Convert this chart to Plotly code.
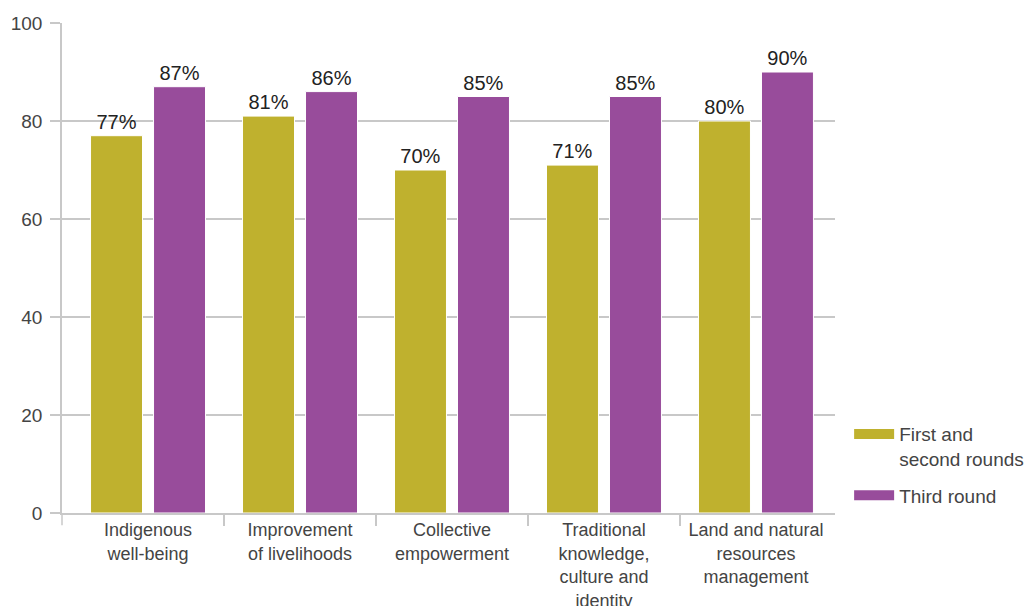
import plotly.graph_objects as go

categories = [
    "Indigenous<br>well-being",
    "Improvement<br>of livelihoods",
    "Collective<br>empowerment",
    "Traditional<br>knowledge,<br>culture and<br>identity",
    "Land and natural<br>resources<br>management",
]
first_second_rounds = [77, 81, 70, 71, 80]
third_round = [87, 86, 85, 85, 90]
y_ticks = [0, 20, 40, 60, 80, 100]

series_names = ["First and<br>second rounds", "Third round"]
colors = ["#BFB12E", "#984C9B"]
FONT = "Liberation Sans, Arial, Helvetica, sans-serif"
GRID = "#C8C8C8"
X_RANGE = [-0.566, 4.52]

fig = go.Figure()
for i, (name, vals, col) in enumerate(zip(series_names, [first_second_rounds, third_round], colors)):
    fig.add_trace(go.Bar(
        x=categories, y=vals, name=name, showlegend=False,
        marker=dict(color=col, line=dict(color="white", width=1)),
        text=[f"{v}%" for v in vals], textposition="outside",
        textfont=dict(family=FONT, size=20, color="#222222"),
        cliponaxis=False,
    ))
    # legend entry drawn as a wide swatch
    fig.add_trace(go.Scatter(
        x=[None], y=[None], mode="lines", name=name, legendgroup=f"g{i}",
        line=dict(color=col, width=13),
    ))

# tick marks between categories, on an overlaid linear axis
fig.add_trace(go.Scatter(x=[None], y=[None], xaxis="x2", showlegend=False))

fig.update_layout(
    width=1033, height=606,
    margin=dict(l=62, r=198, t=23, b=93, autoexpand=False),
    paper_bgcolor="white", plot_bgcolor="white",
    barmode="group", bargap=0.171, bargroupgap=0.175,
    font=dict(family=FONT, size=19, color="#444444"),
    legend=dict(
        xref="container", yref="container",
        x=0.822, xanchor="left", y=0.315, yanchor="top",
        font=dict(family=FONT, size=19, color="#444444"),
        itemwidth=40, tracegroupgap=9, valign="top",
        bgcolor="rgba(0,0,0,0)",
    ),
    xaxis=dict(
        type="category", range=X_RANGE, automargin=False,
        showline=True, linecolor=GRID, linewidth=1.5,
        ticks="", ticklabelstandoff=0,
        tickfont=dict(family=FONT, size=18, color="#444444"),
        showgrid=False,
    ),
    xaxis2=dict(
        overlaying="x", side="bottom", range=X_RANGE,
        tickvals=[0.5, 1.5, 2.5, 3.5], showticklabels=False,
        ticks="outside", ticklen=12, tickcolor=GRID, tickwidth=1.5,
        showgrid=False, zeroline=False, showline=False, automargin=False,
    ),
    yaxis=dict(
        range=[0, 100], tickvals=y_ticks, automargin=False,
        showgrid=True, gridcolor=GRID, gridwidth=1.5,
        showline=True, linecolor=GRID, linewidth=1.5,
        ticks="outside", ticklen=10, tickcolor=GRID, tickwidth=1.5,
        ticklabelstandoff=4,
        tickfont=dict(family=FONT, size=19, color="#444444"),
        zeroline=False,
    ),
)

# y axis line continues a little below the baseline
fig.add_shape(type="line", xref="paper", yref="paper",
              x0=0, x1=0, y0=0, y1=-0.025,
              line=dict(color=GRID, width=1.5))

fig.write_html("out.html")
